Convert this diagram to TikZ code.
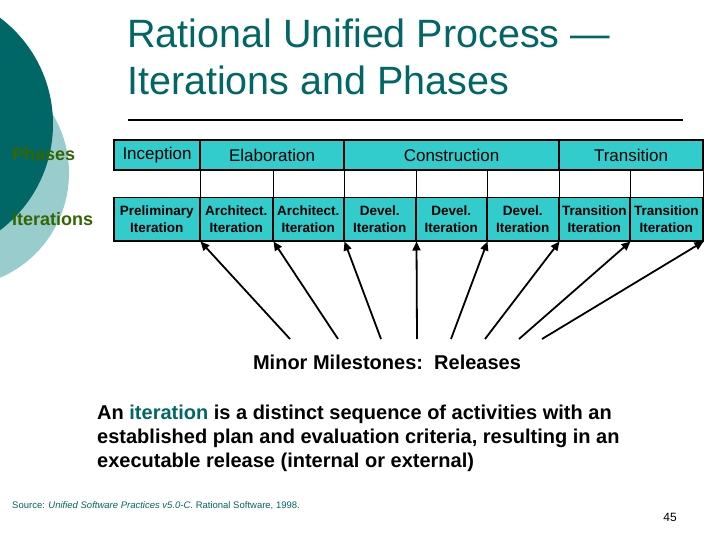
\documentclass[tikz,border=0pt]{standalone}
\usepackage{fontspec}
\setmainfont{Liberation Sans}
\usetikzlibrary{arrows.meta}

\definecolor{rupteal}{HTML}{006666}
\definecolor{ruplight}{HTML}{99CCCC}
\definecolor{rupcyan}{HTML}{33CCCC}
\definecolor{rupgreen}{HTML}{336600}

\tikzset{
  phasebox/.style={draw=black, line width=2pt, fill=rupcyan, anchor=north west,
    minimum height=30pt, inner sep=0pt, font=\fontsize{17}{20}\selectfont},
  iterbox/.style={draw=black, line width=1.5pt, fill=rupcyan, anchor=north west,
    minimum height=43pt, inner sep=0pt, align=center,
    font=\bfseries\fontsize{13.5}{17}\selectfont},
  milestone/.style={-{Triangle[length=9pt,width=8pt]}, line width=1.8pt},
}

\begin{document}
\begin{tikzpicture}[x=1pt,y=-1pt]

% Page
\useasboundingbox (0,0) rectangle (720,540);
\clip (0,0) rectangle (720,540);
\fill[white] (0,0) rectangle (720,540);

% Circles on the left
\fill[ruplight] (-45,173) circle (114);
\fill[rupteal] (-80,124) circle (133);

% Title and rule
\node (title) [anchor=west, align=left, text=rupteal, inner sep=0pt,
  font=\fontsize{39.5}{47}\selectfont] at (127,57)
  {Rational Unified Process ---\\Iterations and Phases};
\draw[line width=2pt] (128,120) -- (683,120);

% Row labels
\node (phaselbl) [anchor=west, inner sep=0pt, text=rupgreen,
  font=\bfseries\fontsize{18}{21}\selectfont] at (12,154) {Phases};
\node (iterlbl) [anchor=west, inner sep=0pt, text=rupgreen,
  font=\bfseries\fontsize{18}{21}\selectfont] at (12,219) {Iterations};

% Phases
\foreach \name/\x/\w/\txt in {inc/113/86/Inception, ela/199/144/Elaboration,
    con/343/215/Construction, tra/558/144/Transition}
  \node (\name) [phasebox, minimum width=\w pt] at (\x,139) {\txt};

% Iterations
\foreach \i/\x/\w/\txt in {1/113/86/Preliminary, 2/199/73/Architect.,
    3/272/71/Architect., 4/343/72/Devel., 5/415/71/Devel., 6/486/72/Devel.,
    7/558/71/Transition, 8/629/73/Transition}
  \node (it\i) [iterbox, minimum width=\w pt] at (\x,197) {\txt\\Iteration};

% Links between phases and iterations
\foreach \i in {1,...,8}
  \draw[line width=1.5pt] (it\i.north east) -- (it\i.north east |- inc.south);

% Minor milestones
\foreach \i/\x in {1/290, 2/338, 3/381, 4/417, 5/451, 6/485, 7/519, 8/542}
  \coordinate (m\i) at (\x,339);
\foreach \i in {1,...,8}
  \draw[milestone] (m\i) -- (it\i.south east);

\node (releases) [font=\bfseries\fontsize{20}{23}\selectfont] at (387,362)
  {Minor Milestones:\ \ Releases};

% Definition
\node (defn) [anchor=north west, align=left, inner sep=0pt,
  font=\bfseries\fontsize{20}{24}\selectfont] at (97,405)
  {An \textcolor{rupteal}{iteration} is a distinct sequence of activities with an\\
   established plan and evaluation criteria, resulting in an\\
   executable release (internal or external)};

% Footer
\node (source) [anchor=west, inner sep=0pt, text=rupteal,
  font=\fontsize{9.5}{11}\selectfont] at (12,506)
  {Source: \textit{Unified Software Practices v5.0-C}. Rational Software, 1998.};
\node (pagenum) [font=\fontsize{12}{14}\selectfont] at (670,517) {45};

\end{tikzpicture}
\end{document}
